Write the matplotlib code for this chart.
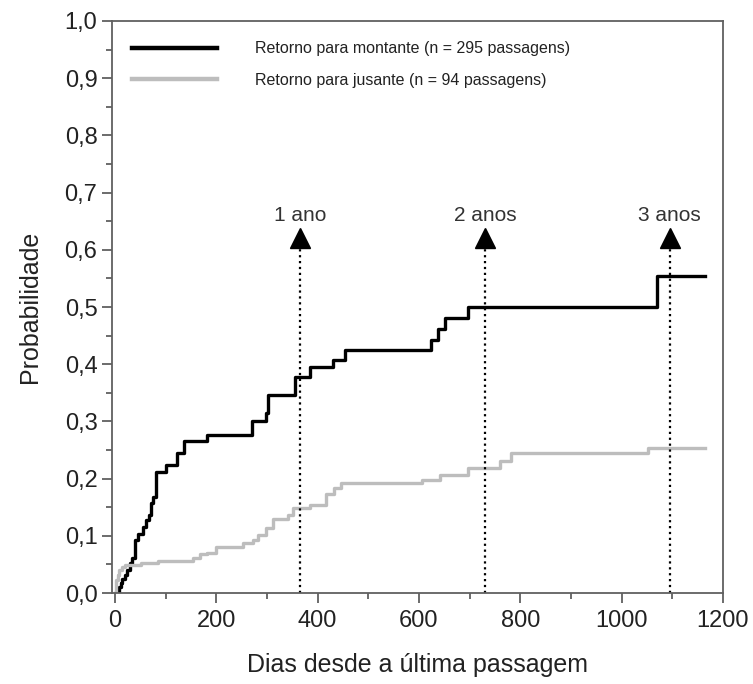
import numpy as np
import matplotlib.pyplot as plt
from matplotlib.ticker import MultipleLocator, FuncFormatter

plt.rcParams['font.family'] = ['Liberation Sans', 'DejaVu Sans']

# curvas de retorno acumulado (dias, probabilidade)
dias_montante = [2, 7, 11, 14, 20, 24, 30, 33, 39, 46, 56, 62, 67, 71, 75, 81, 100, 122, 136,
                 181, 271, 298, 302, 355, 384, 430, 453, 624, 637, 652, 697, 1069, 1164]
prob_montante = [0.0, 0.010, 0.017, 0.024, 0.031, 0.040, 0.052, 0.062, 0.093, 0.104, 0.116, 0.128,
                 0.136, 0.157, 0.168, 0.212, 0.224, 0.244, 0.265, 0.276, 0.301, 0.315, 0.347, 0.378,
                 0.395, 0.408, 0.425, 0.442, 0.461, 0.481, 0.500, 0.555, 0.555]

dias_jusante = [0, 2, 5, 8.5, 13, 20, 52, 85, 154, 167, 181, 200, 253, 272, 282, 299, 312, 341,
                351, 384, 417, 433, 447, 606, 642, 696, 759, 782, 1052, 1164]
prob_jusante = [0.0, 0.023, 0.031, 0.040, 0.045, 0.049, 0.052, 0.056, 0.061, 0.068, 0.070, 0.081,
                0.087, 0.093, 0.101, 0.113, 0.130, 0.136, 0.148, 0.154, 0.173, 0.184, 0.193, 0.198,
                0.206, 0.219, 0.231, 0.244, 0.253, 0.253]

marcos_dias = [365, 730, 1095]
marcos_texto = ["1 ano", "2 anos", "3 anos"]
marco_altura = 0.62

fig = plt.figure(figsize=(7.53, 6.84), dpi=100)
ax = fig.add_axes([0.1487, 0.1330, 0.8114, 0.8363])

ax.step(dias_montante, prob_montante, where='post', color='black', lw=2.4,
        label='Retorno para montante (n = 295 passagens)')
ax.step(dias_jusante, prob_jusante, where='post', color='#bdbdbd', lw=2.4,
        label='Retorno para jusante (n = 94 passagens)')

for d, txt in zip(marcos_dias, marcos_texto):
    ax.plot([d, d], [0, marco_altura], color='black', ls=':', lw=1.6)
    ax.plot(d, marco_altura, marker='^', color='black', ms=15, clip_on=False)
    ax.text(d, marco_altura + 0.04, txt, ha='center', va='center', fontsize=15, color='#333333')

ax.set_xlim(-6, 1200)
ax.set_ylim(0, 1.0)
ax.xaxis.set_major_locator(MultipleLocator(200))
ax.xaxis.set_minor_locator(MultipleLocator(100))
ax.yaxis.set_major_locator(MultipleLocator(0.1))
ax.yaxis.set_minor_locator(MultipleLocator(0.05))
ax.yaxis.set_major_formatter(FuncFormatter(lambda v, p: f"{v:.1f}".replace('.', ',')))

for s in ax.spines.values():
    s.set_color('#606060')
    s.set_linewidth(1.3)
ax.tick_params(which='both', direction='out', color='#606060', width=1.3)
ax.tick_params(which='major', length=7, labelsize=17, labelcolor='#222222')
ax.tick_params(axis='x', which='major', pad=5)
ax.tick_params(which='minor', length=4)

ax.set_xlabel('Dias desde a última passagem', fontsize=18, color='#222222', labelpad=15)
ax.set_ylabel('Probabilidade', fontsize=18, color='#222222', labelpad=16)

leg = ax.legend(loc='upper left', bbox_to_anchor=(0.01, 0.99), frameon=False, fontsize=11.5,
                handlelength=5.3, handletextpad=2.4, labelspacing=1.05)
for l in leg.get_lines():
    l.set_linewidth(3.2)
for t in leg.get_texts():
    t.set_color('#222222')

fig.savefig('out.png', dpi=100)
